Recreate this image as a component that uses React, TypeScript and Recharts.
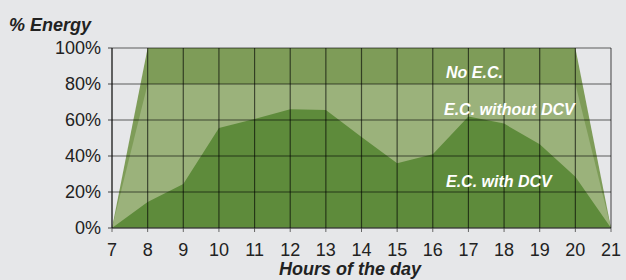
import React from 'react';
import { AreaChart, Area, XAxis, YAxis, CartesianGrid } from 'recharts';

const hours = [7, 8, 9, 10, 11, 12, 13, 14, 15, 16, 17, 18, 19, 20, 21];
const noEc = [0, 100, 100, 100, 100, 100, 100, 100, 100, 100, 100, 100, 100, 100, 0];
const ecWithoutDcv = [0, 80, 80, 80, 80, 80, 80, 80, 80, 80, 80, 80, 80, 80, 0];
const ecWithDcv = [0, 14.5, 24.5, 55.5, 60.5, 66, 65.5, 50.5, 36, 41, 62, 58, 46.5, 28.5, 0];
const yTicks = [0, 20, 40, 60, 80, 100];

const FONT = '"Liberation Sans", Arial, Helvetica, sans-serif';
const BG = '#e6e7e9';

const data = hours.map((h, i) => ({
  hour: h,
  noEc: noEc[i],
  ecWithout: ecWithoutDcv[i],
  ecWith: ecWithDcv[i]
}));

const labelStyle: React.CSSProperties = {
  position: 'absolute',
  color: '#fff',
  fontFamily: FONT,
  fontWeight: 'bold',
  fontStyle: 'italic',
  fontSize: 16,
  lineHeight: '16px',
  whiteSpace: 'nowrap'
};

export default function App() {
  return (
    <div style={{ position: 'absolute', left: 0, top: 0, width: 626, height: 280, background: BG, fontFamily: FONT }}>
      <AreaChart
        width={626}
        height={280}
        data={data}
        margin={{ top: 48, right: 15, left: 0, bottom: 0 }}
      >
        <XAxis
          dataKey="hour"
          type="number"
          domain={[7, 21]}
          ticks={hours}
          height={52}
          tickSize={4}
          tickMargin={11}
          stroke="#666"
          tick={{ fill: '#222', fontSize: 18, fontFamily: FONT }}
        />
        <YAxis
          type="number"
          domain={[0, 100]}
          ticks={yTicks}
          width={112}
          tickSize={4}
          tickMargin={7}
          stroke="#444"
          tickFormatter={(v: number) => `${v}%`}
          tick={{ fill: '#222', fontSize: 18, fontFamily: FONT }}
        />
        <Area type="linear" dataKey="noEc" stroke="none" fill="#7e9c58" fillOpacity={1} isAnimationActive={false} />
        <Area type="linear" dataKey="ecWithout" stroke="none" fill="#9bb27b" fillOpacity={1} isAnimationActive={false} />
        <Area type="linear" dataKey="ecWith" stroke="none" fill="#5e8b3b" fillOpacity={1} isAnimationActive={false} />
        <CartesianGrid stroke="#000" strokeOpacity={0.6} strokeWidth={1.2} zIndex={600} />
      </AreaChart>

      <div style={{ position: 'absolute', left: 9, top: 15, fontSize: 18, fontWeight: 'bold', fontStyle: 'italic', color: '#222', lineHeight: '20px' }}>
        % Energy
      </div>
      <div style={{ position: 'absolute', left: 279, top: 259, fontSize: 18, fontWeight: 'bold', fontStyle: 'italic', color: '#222', lineHeight: '20px' }}>
        Hours of the day
      </div>

      <div style={{ ...labelStyle, left: 446, top: 65 }}>No E.C.</div>
      <div style={{ ...labelStyle, left: 444, top: 102 }}>E.C. without DCV</div>
      <div style={{ ...labelStyle, left: 446, top: 174 }}>E.C. with DCV</div>
    </div>
  );
}
